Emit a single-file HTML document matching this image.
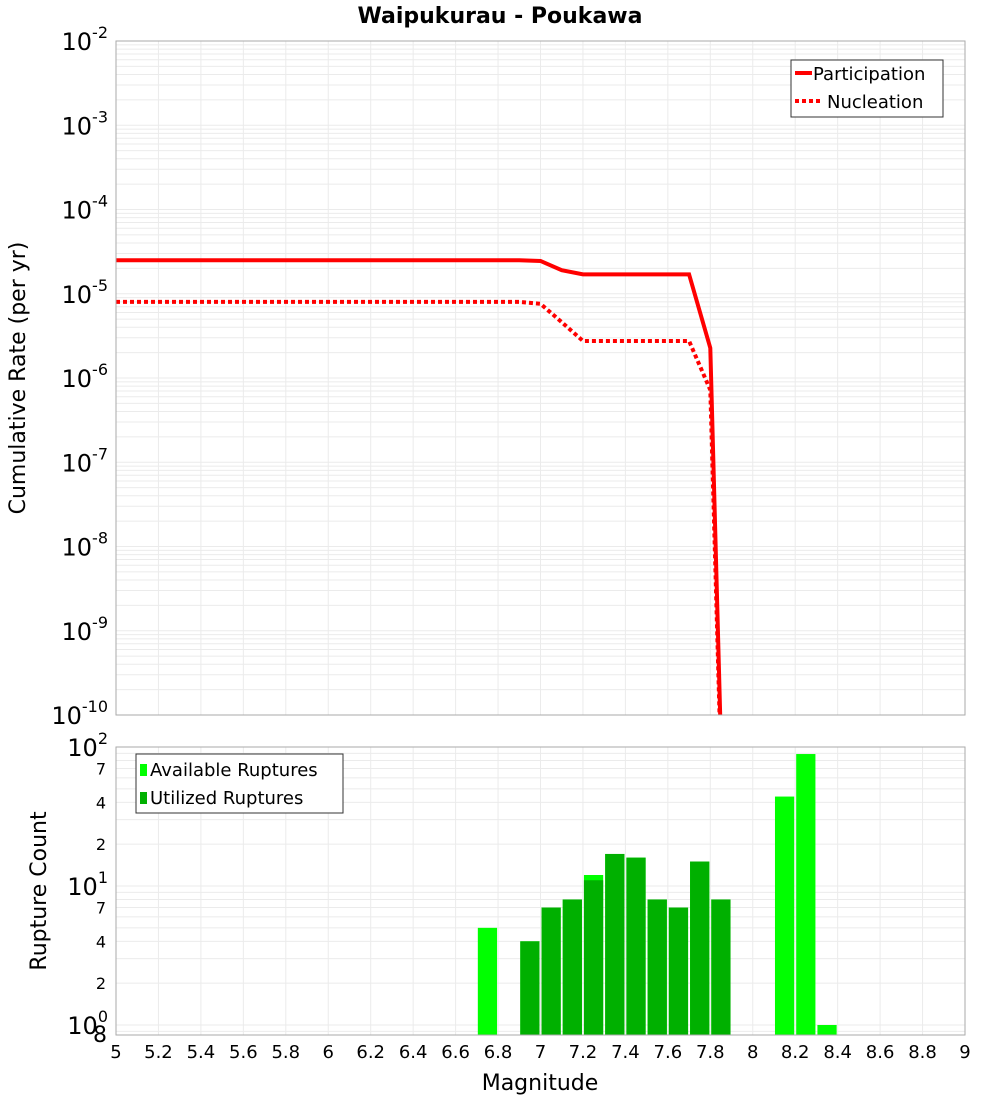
<!DOCTYPE html>
<html><head><meta charset="utf-8"><style>
body{margin:0;background:#fff;font-family:"DejaVu Sans","Liberation Sans",sans-serif}
</style></head><body>
<svg id="c" width="1000" height="1100" xmlns="http://www.w3.org/2000/svg" font-family="DejaVu Sans, Liberation Sans, sans-serif"></svg>
<script>
const mags=[5,5.1,5.2,5.3,5.4,5.5,5.6,5.7,5.8,5.9,6,6.1,6.2,6.3,6.4,6.5,6.6,6.7,6.8,6.9,7,7.1,7.2,7.3,7.4,7.5,7.6,7.7,7.8,7.9];
const participation=[2.5e-5,2.5e-5,2.5e-5,2.5e-5,2.5e-5,2.5e-5,2.5e-5,2.5e-5,2.5e-5,2.5e-5,2.5e-5,2.5e-5,2.5e-5,2.5e-5,2.5e-5,2.5e-5,2.5e-5,2.5e-5,2.5e-5,2.5e-5,2.45e-5,1.9e-5,1.7e-5,1.7e-5,1.7e-5,1.7e-5,1.7e-5,1.7e-5,2.27e-6,1e-15];
const nucleation=[8e-6,8e-6,8e-6,8e-6,8e-6,8e-6,8e-6,8e-6,8e-6,8e-6,8e-6,8e-6,8e-6,8e-6,8e-6,8e-6,8e-6,8e-6,8e-6,8e-6,7.6e-6,4.6e-6,2.75e-6,2.75e-6,2.75e-6,2.75e-6,2.75e-6,2.75e-6,7.2e-7,1e-15];
const binStarts=[6.7,6.9,7.0,7.1,7.2,7.3,7.4,7.5,7.6,7.7,7.8,8.1,8.2,8.3];
const available=[5,4,7,8,12,17,16,8,7,15,8,44,89,1];
const utilized=[0,4,7,8,11,17,16,8,7,15,8,0,0,0];
const xTicks=[5,5.2,5.4,5.6,5.8,6,6.2,6.4,6.6,6.8,7,7.2,7.4,7.6,7.8,8,8.2,8.4,8.6,8.8,9];

const NS="http://www.w3.org/2000/svg",svg=document.getElementById('c');
function el(t,a,p){const e=document.createElementNS(NS,t);for(const k in a)e.setAttribute(k,a[k]);(p||svg).appendChild(e);return e;}
const L=116,R=965;
const X=m=>L+(m-5)/4*(R-L);
const T0=41,T1=715; const Yt=v=>T0+(-2-Math.log10(v))*(T1-T0)/8;
const B0=747,B1=1035; const Yb=v=>1025-Math.log10(v)*139;

// top panel
let g=el('g',{});
el('rect',{x:L,y:T0,width:R-L,height:T1-T0,fill:'#fff'},g);
for(let d=-10;d<-2;d++)for(let k=1;k<10;k++){const y=Yt(k*Math.pow(10,d));el('line',{x1:L,x2:R,y1:y,y2:y,stroke:'#ebebeb'},g);}
for(const t of xTicks){el('line',{x1:X(t),x2:X(t),y1:T0,y2:T1,stroke:'#ebebeb'},g);}
el('defs',{}).innerHTML='<clipPath id="ct"><rect x="116" y="41" width="849" height="674"/></clipPath><clipPath id="cb"><rect x="116" y="747" width="849" height="288"/></clipPath>';
const pp=mags.map((m,i)=>X(m)+','+Yt(participation[i])).join(' ');
let l1=el('polyline',{points:pp,fill:'none',stroke:'#f00','stroke-width':4,'clip-path':'url(#ct)'},g);

const np=mags.map((m,i)=>X(m)+','+Yt(nucleation[i])).join(' ');
let l2=el('polyline',{points:np,fill:'none',stroke:'#f00','stroke-width':4,'stroke-dasharray':'4 3','clip-path':'url(#ct)'},g);

el('rect',{x:L,y:T0,width:R-L,height:T1-T0,fill:'none',stroke:'#aaa'},g);
for(let d=-10;d<=-2;d++){const t=el('text',{x:108,y:Yt(Math.pow(10,d))+9,'text-anchor':'end','font-size':24},g);t.innerHTML='10<tspan dy="-12" font-size="16">'+d+'</tspan>';}
// top legend
let lg=el('g',{});
el('rect',{x:791,y:60,width:152,height:57,fill:'#fff',stroke:'#333'},lg);
el('line',{x1:795,x2:812,y1:73,y2:73,stroke:'#f00','stroke-width':4},lg);
el('text',{x:813,y:80,'font-size':18},lg).textContent='Participation';
el('line',{x1:795,x2:822,y1:101,y2:101,stroke:'#f00','stroke-width':4,'stroke-dasharray':'4 3'},lg);
el('text',{x:827,y:108,'font-size':18},lg).textContent='Nucleation';

// bottom panel
let g2=el('g',{});
el('rect',{x:L,y:B0,width:R-L,height:B1-B0,fill:'#fff'},g2);
for(const v of [0.8,0.9,1,2,3,4,5,6,7,8,9,10,20,30,40,50,60,70,80,90,100]){const y=Yb(v);if(y>=B0&&y<=B1)el('line',{x1:L,x2:R,y1:y,y2:y,stroke:'#ebebeb'},g2);}
for(const t of xTicks){el('line',{x1:X(t),x2:X(t),y1:B0,y2:B1,stroke:'#ebebeb'},g2);}
binStarts.forEach((b,i)=>{
  let r=el('rect',{x:X(b)+1,y:Yb(available[i]),width:X(b+0.1)-X(b)-2,height:B1-Yb(available[i]),fill:'#00ff00','clip-path':'url(#cb)'},g2);
  
  if(utilized[i]>0){let u=el('rect',{x:X(b)+1,y:Yb(utilized[i]),width:X(b+0.1)-X(b)-2,height:B1-Yb(utilized[i]),fill:'#00b000','clip-path':'url(#cb)'},g2);
  }
});
el('rect',{x:L,y:B0,width:R-L,height:B1-B0,fill:'none',stroke:'#aaa'},g2);
[[1,0],[10,1],[100,2]].forEach(([v,e])=>{const t=el('text',{x:108,y:Yb(v)+9,'text-anchor':'end','font-size':24},g2);t.innerHTML='10<tspan dy="-12" font-size="16">'+e+'</tspan>';});
[[2,'2'],[4,'4'],[7,'7'],[20,'2'],[40,'4'],[70,'7']].forEach(([v,s])=>{el('text',{x:106,y:Yb(v)+6,'text-anchor':'end','font-size':16},g2).textContent=s;});
el('text',{x:107,y:1042,'text-anchor':'end','font-size':22},g2).textContent='8';
for(const t of xTicks){let tx=el('text',{x:X(t),y:1058,'text-anchor':'middle','font-size':18},g2);tx.textContent=String(t);}
let lg2=el('g',{});
el('rect',{x:136,y:754,width:207,height:59,fill:'#fff',stroke:'#333'},lg2);
el('rect',{x:140,y:764,width:7,height:12,fill:'#00ff00'},lg2);
el('text',{x:150,y:776,'font-size':18},lg2).textContent='Available Ruptures';
el('rect',{x:140,y:792,width:7,height:12,fill:'#00b000'},lg2);
el('text',{x:150,y:804,'font-size':18},lg2).textContent='Utilized Ruptures';

// titles
let tt=el('text',{x:500,y:23,'text-anchor':'middle','font-size':22,'font-weight':'bold'});tt.textContent='Waipukurau - Poukawa';
let yt=el('text',{x:0,y:0,'text-anchor':'middle','font-size':22,transform:'translate(25,378) rotate(-90)'});yt.textContent='Cumulative Rate (per yr)';
let yt2=el('text',{x:0,y:0,'text-anchor':'middle','font-size':22,transform:'translate(46,891) rotate(-90)'});yt2.textContent='Rupture Count';
let xt=el('text',{x:540,y:1090,'text-anchor':'middle','font-size':22});xt.textContent='Magnitude';
</script>
</body></html>
